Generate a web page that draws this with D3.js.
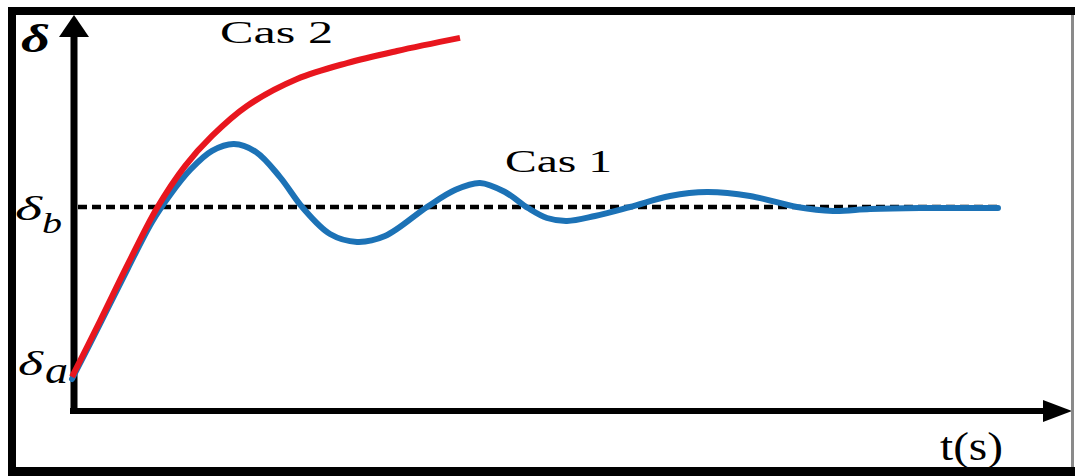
<!DOCTYPE html>
<html>
<head>
<meta charset="utf-8">
<script src="https://cdn.jsdelivr.net/npm/d3@7"></script>
<style>
  html, body { margin: 0; padding: 0; background: #fff; }
  svg { display: block; }
</style>
</head>
<body>
<svg id="chart" width="1075" height="476"></svg>
<script>
// ---- data (t in arbitrary time units, delta normalised: δa = 0, δb = 1) ----
const cas1T = [0, 0.28, 0.56, 0.80, 0.98, 1.18, 1.40, 1.62, 1.84, 2.08, 2.31, 2.58, 2.85, 3.13, 3.55, 3.83, 4.08, 4.33, 4.56, 4.75, 4.95, 5.23, 5.58, 5.98, 6.35, 6.78, 7.25, 7.61, 7.98, 8.48, 9.26];
const cas1D = [0, 0.320, 0.645, 0.913, 1.070, 1.215, 1.326, 1.366, 1.320, 1.174, 0.994, 0.843, 0.797, 0.831, 1.000, 1.099, 1.140, 1.087, 0.994, 0.936, 0.919, 0.948, 1.000, 1.064, 1.087, 1.064, 1.000, 0.977, 0.988, 0.994, 0.994];
const cas2T = [0, 0.28, 0.56, 0.85, 1.13, 1.40, 1.75, 2.25, 2.75, 3.25, 3.88];
const cas2D = [0.012, 0.337, 0.669, 0.994, 1.238, 1.413, 1.587, 1.744, 1.837, 1.907, 1.983];
const refLevel = 1;          // δb
const startLevel = 0;        // δa
const refStartT = 0.06, refEndT = 9.26;
const seriesNames = ["Cas 1", "Cas 2"];
const tAxisMax = 10, dAxisMin = -0.186, dAxisMax = 2.116;
const xAxisLabel = "t(s)";
const yAxisLabel = "δ";

// ---- scales ----
const x = d3.scaleLinear().domain([0, 10]).range([72, 1072]);
const y = d3.scaleLinear().domain([0, 1]).range([379, 207]);

const svg = d3.select("#chart");
svg.append("rect").attr("width", 1075).attr("height", 476).attr("fill", "#fff");

// ---- axes ----
const ax0 = x(0), ay0 = y(dAxisMin);
// y axis
svg.append("line").attr("x1", ax0 + 2).attr("x2", ax0 + 2)
  .attr("y1", ay0 + 3).attr("y2", y(dAxisMax) + 18)
  .attr("stroke", "#000").attr("stroke-width", 7);
svg.append("polygon")
  .attr("points", [[ax0 + 2, y(dAxisMax)], [ax0 + 2 - 15, y(dAxisMax) + 22], [ax0 + 2 + 15, y(dAxisMax) + 22]].map(p => p.join(",")).join(" "))
  .attr("fill", "#000");
// x axis
svg.append("line").attr("x1", ax0 - 2).attr("x2", x(tAxisMax) - 25)
  .attr("y1", ay0).attr("y2", ay0)
  .attr("stroke", "#000").attr("stroke-width", 6);
svg.append("polygon")
  .attr("points", [[x(tAxisMax), ay0], [x(tAxisMax) - 29, ay0 - 11], [x(tAxisMax) - 29, ay0 + 11]].map(p => p.join(",")).join(" "))
  .attr("fill", "#000");

// ---- reference dashed line δb ----
svg.append("line")
  .attr("x1", x(refStartT)).attr("x2", x(refEndT))
  .attr("y1", y(refLevel)).attr("y2", y(refLevel))
  .attr("stroke", "#000").attr("stroke-width", 4.5)
  .attr("stroke-dasharray", "9,5");

// ---- curves ----
const line = d3.line().x(d => x(d[0])).y(d => y(d[1])).curve(d3.curveCatmullRom.alpha(0.5));
const cas1 = cas1T.map((t, i) => [t, cas1D[i]]);
const cas2 = cas2T.map((t, i) => [t, cas2D[i]]);

svg.append("path").attr("d", line(cas1))
  .attr("fill", "none").attr("stroke", "#1c72b6").attr("stroke-width", 6)
  .attr("stroke-linecap", "round").attr("stroke-linejoin", "round");
svg.append("path").attr("d", line(cas2))
  .attr("fill", "none").attr("stroke", "#e8161e").attr("stroke-width", 6)
  .attr("stroke-linejoin", "round");

// ---- texts ----
function txt(s, px, py, size, len, opts = {}) {
  return svg.append("text")
    .attr("x", px).attr("y", py)
    .attr("font-family", "Liberation Serif")
    .attr("font-size", size)
    .attr("font-style", opts.italic ? "italic" : "normal")
    .attr("font-weight", opts.bold ? "bold" : "normal")
    .attr("textLength", len).attr("lengthAdjust", "spacingAndGlyphs")
    .attr("fill", "#000")
    .text(s);
}
// series labels
txt(seriesNames[1], 220, 43, 31, 113);
txt(seriesNames[0], 505, 172, 31, 107);
// axis titles
txt(yAxisLabel, 21, 52, 40, 29, { italic: true, bold: true });
txt(xAxisLabel, 940, 460, 39, 63);
// δb tick label
txt("δ", 15, y(refLevel) + 13, 33, 27, { italic: true });
txt("b", 42, y(refLevel) + 26, 30, 20, { italic: true });
// δa tick label
txt("δ", 18, y(startLevel) - 4, 33, 25, { italic: true });
txt("a", 45, y(startLevel) + 4, 38, 23, { italic: true });

// ---- frame ----
svg.append("rect").attr("x", 8).attr("y", 7).attr("width", 8).attr("height", 469).attr("fill", "#000");
svg.append("rect").attr("x", 8).attr("y", 7).attr("width", 1067).attr("height", 8).attr("fill", "#000");
svg.append("rect").attr("x", 8).attr("y", 467).attr("width", 1067).attr("height", 9).attr("fill", "#000");
svg.append("rect").attr("x", 1071).attr("y", 15).attr("width", 3).attr("height", 452).attr("fill", "#8a8a8a");
</script>
</body>
</html>
